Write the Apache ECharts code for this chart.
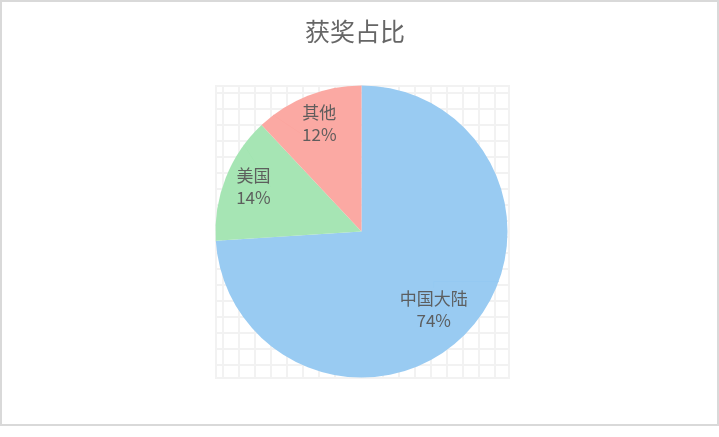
<!DOCTYPE html>
<html>
<head>
<meta charset="utf-8">
<script src="https://cdn.jsdelivr.net/npm/echarts@6/dist/echarts.min.js"></script>
<style>
  html, body { margin: 0; padding: 0; background: #fff; }
  #chart { position: absolute; left: 0; top: 0; width: 719px; height: 437px; }
  #frame { position: absolute; left: 0; top: 0; width: 715px; height: 422px; border: 2px solid #d9d9d9; pointer-events: none; }
</style>
</head>
<body>
<div id="chart"></div>
<div id="frame"></div>
<script>
const titleText = '获奖占比';
const categories = ['中国大陆', '美国', '其他'];
const values = [74, 14, 12];
const colors = ['#95c9f1', '#a2e4b1', '#fba69f'];

const CX = 361.5, CY = 231.5, R = 146;
// radial stretch of each inside label relative to library's default (r/2), plus small pixel nudges
const labelStretch = [1.43, 1.6, 1.58];
const labelNudge = [[-7, 4], [5, 0], [2, 4]];

// background grid pattern
const pat = document.createElement('canvas');
pat.width = 16; pat.height = 16;
const pctx = pat.getContext('2d');
pctx.fillStyle = '#ffffff';
pctx.fillRect(0, 0, 16, 16);
pctx.fillStyle = '#f2f2f2';
pctx.fillRect(14, 0, 2, 16);
pctx.fillRect(0, 12, 16, 2);

const chart = echarts.init(document.getElementById('chart'), null, { renderer: 'canvas' });
chart.setOption({
  animation: false,
  backgroundColor: '#fff',
  title: {
    text: titleText,
    left: 300,
    top: 14,
    textStyle: { fontSize: 25, fontWeight: 'normal', color: '#666', fontFamily: '"Noto Sans CJK SC", sans-serif' }
  },
  grid: {
    show: true,
    left: 216, top: 86, width: 293, height: 292,
    backgroundColor: { image: pat, repeat: 'repeat' },
    borderColor: '#f2f2f2',
    borderWidth: 2
  },
  xAxis: { show: false, type: 'value', min: 0, max: 1 },
  yAxis: { show: false, type: 'value', min: 0, max: 1 },
  series: [{
    type: 'pie',
    center: [CX, CY],
    radius: R,
    startAngle: 90,
    clockwise: true,
    silent: true,
    itemStyle: { opacity: 0.96 },
    label: {
      show: true,
      position: 'inside',
      formatter: '{b}\n{d}%',
      fontSize: 17,
      lineHeight: 22,
      color: '#595959',
      fontFamily: '"Noto Sans CJK SC", sans-serif'
    },
    labelLayout: function (p) {
      const k = labelStretch[p.dataIndex];
      const n = labelNudge[p.dataIndex];
      const lx = p.labelRect.x + p.labelRect.width / 2;
      const ly = p.labelRect.y + p.labelRect.height / 2;
      return {
        x: CX + (lx - CX) * k + n[0],
        y: CY + (ly - CY) * k + n[1],
        align: 'center',
        verticalAlign: 'middle'
      };
    },
    data: categories.map((c, i) => ({ name: c, value: values[i], itemStyle: { color: colors[i] } }))
  }]
});
</script>
</body>
</html>
